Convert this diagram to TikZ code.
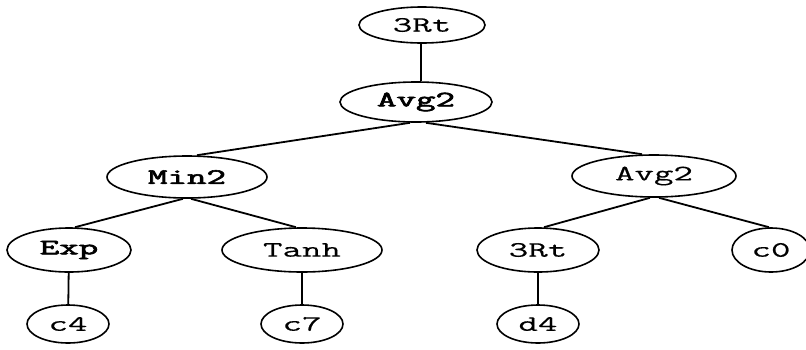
\documentclass[tikz,border=0pt]{standalone}
\usepackage{fontspec}
\usepackage{graphicx}
\usetikzlibrary{shapes.geometric}
\newfontfamily\courfont[FakeBold=0.3]{Latin Modern Mono}
\newfontfamily\courbold[FakeBold=2.5]{Latin Modern Mono}
\newcommand\wlbl[1]{\scalebox{1.72}[1]{#1}}
\tikzset{
  tn/.style={draw, ellipse, line width=1.6pt, inner sep=0pt, font=\courfont\fontsize{22}{24}\selectfont},
  tb/.style={tn, font=\courbold\fontsize{22}{24}\selectfont},
  edge/.style={line width=1.8pt}
}
\begin{document}
\begin{tikzpicture}[x=1pt,y=-1pt]
\useasboundingbox (0,0) rectangle (806,349);
\node[tn, minimum width=126pt, minimum height=36pt] (r) at (422,25) {\wlbl{3Rt}};
\node[tb, minimum width=152pt, minimum height=40pt] (a) at (416,102) {\wlbl{Avg2}};
\node[tb, minimum width=160pt, minimum height=42pt] (m) at (187,177) {\wlbl{Min2}};
\node[tn, minimum width=164pt, minimum height=42pt] (a2) at (654,176) {\wlbl{Avg2}};
\node[tb, minimum width=124pt, minimum height=44pt] (e) at (69,250) {\wlbl{Exp}};
\node[tn, minimum width=160pt, minimum height=44pt] (t) at (302,250) {\wlbl{Tanh}};
\node[tn, minimum width=122pt, minimum height=44pt] (r2) at (538,250) {\wlbl{3Rt}};
\node[tn, minimum width=78pt, minimum height=44pt] (c0) at (771,250) {\wlbl{c0}};
\node[tn, minimum width=82pt, minimum height=38pt] (c4) at (68,324) {\wlbl{c4}};
\node[tn, minimum width=82pt, minimum height=38pt] (c7) at (302,324) {\wlbl{c7}};
\node[tn, minimum width=82pt, minimum height=38pt] (d4) at (538,324) {\wlbl{d4}};
\draw[edge] ([xshift=-1pt]r.south) -- ([xshift=5pt]a.north);
\draw[edge] ([xshift=-6pt]a.south) -- ([xshift=10pt]m.north);
\draw[edge] ([xshift=10pt]a.south) -- ([xshift=-12pt]a2.north);
\draw[edge] ([xshift=-4pt]m.south) -- ([xshift=6pt]e.north);
\draw[edge] ([xshift=4pt]m.south) -- ([xshift=-6pt]t.north);
\draw[edge] ([xshift=-4pt]a2.south) -- ([xshift=6pt]r2.north);
\draw[edge] ([xshift=5pt]a2.south) -- ([xshift=-2pt]c0.north);
\draw[edge] (e) -- (c4);
\draw[edge] (t) -- (c7);
\draw[edge] (r2) -- (d4);
\end{tikzpicture}
\end{document}
